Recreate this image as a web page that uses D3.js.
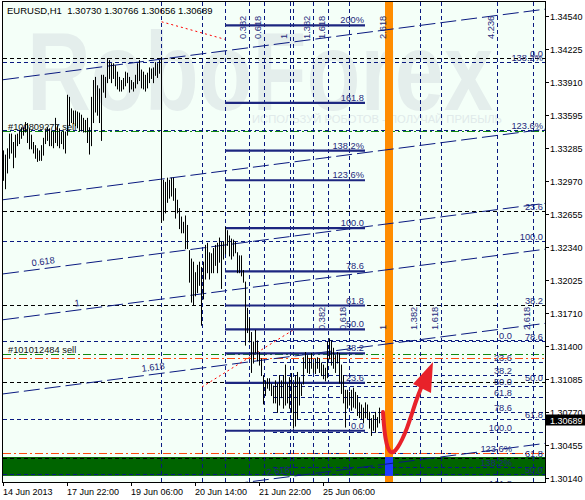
<!DOCTYPE html>
<html>
<head>
<meta charset="utf-8">
<script src="https://cdn.jsdelivr.net/npm/d3@7"></script>
<style>
  body { margin: 0; background: #fff; }
  svg { display: block; }
  text { font-family: Tahoma, "Liberation Sans", Arial, sans-serif; }
</style>
</head>
<body>
<svg id="chart" width="585" height="500"></svg>
<script>
// EURUSD H1 bars: highs and lows per bar (one bar = one hour)
const highs = [
  1.3326,1.3322,1.3328,1.3342,1.3342,1.3334,1.3341,1.3342,1.3345,1.3348,
  1.3348,1.3353,1.3352,1.3347,1.3341,1.3334,1.3331,1.3328,1.3326,1.3331,
  1.3338,1.3345,1.3348,1.3347,1.3345,1.3344,1.3357,1.3350,1.3347,1.3344,
  1.3345,1.3344,1.3379,1.3377,1.3366,1.3364,1.3364,1.3363,1.3362,1.3360,
  1.3357,1.3355,1.3357,1.3348,1.3377,1.3393,1.3396,1.3388,1.3385,1.3398,
  1.3398,1.3396,1.3414,1.3412,1.3409,1.3409,1.3407,1.3401,1.3396,1.3393,
  1.3395,1.3401,1.3400,1.3396,1.3393,1.3391,1.3398,1.3409,1.3412,1.3403,
  1.3401,1.3398,1.3400,1.3405,1.3404,1.3405,1.3410,1.3409,1.3412,1.3415,
  1.3298,1.3296,1.3300,1.3298,1.3300,1.3300,1.3290,1.3279,1.3271,1.3263,
  1.3258,1.3264,1.3255,1.3231,1.3223,1.3220,1.3210,1.3217,1.3220,1.3215,
  1.3220,1.3236,1.3238,1.3229,1.3228,1.3233,1.3236,1.3238,1.3243,1.3239,
  1.3239,1.3253,1.3250,1.3245,1.3242,1.3241,1.3239,1.3229,1.3226,1.3226,
  1.3212,1.3201,1.3176,1.3166,1.3153,1.3144,1.3155,1.3145,1.3134,1.3128,
  1.3112,1.3107,1.3109,1.3109,1.3104,1.3102,1.3107,1.3104,1.3112,1.3107,
  1.3112,1.3122,1.3104,1.3110,1.3114,1.3104,1.3112,1.3115,1.3110,1.3104,
  1.3129,1.3134,1.3131,1.3128,1.3133,1.3124,1.3128,1.3129,1.3128,1.3124,
  1.3122,1.3119,1.3144,1.3147,1.3145,1.3138,1.3131,1.3134,1.3133,1.3122,
  1.3112,1.3098,1.3098,1.3096,1.3098,1.3100,1.3096,1.3093,1.3086,1.3084,
  1.3081,1.3086,1.3084,1.3077,1.3071,1.3074,1.3077,1.3072,1.3081
];
const lows = [
  1.3298,1.3290,1.3305,1.3319,1.3324,1.3310,1.3320,1.3331,1.3333,1.3338,
  1.3341,1.3344,1.3334,1.3328,1.3328,1.3324,1.3319,1.3316,1.3317,1.3317,
  1.3322,1.3333,1.3336,1.3331,1.3331,1.3329,1.3334,1.3331,1.3329,1.3333,
  1.3328,1.3324,1.3341,1.3350,1.3353,1.3352,1.3350,1.3348,1.3345,1.3345,
  1.3344,1.3344,1.3334,1.3323,1.3331,1.3353,1.3363,1.3360,1.3353,1.3336,
  1.3382,1.3377,1.3391,1.3395,1.3391,1.3395,1.3388,1.3385,1.3383,1.3383,
  1.3385,1.3388,1.3391,1.3382,1.3385,1.3383,1.3386,1.3390,1.3393,1.3386,
  1.3385,1.3383,1.3386,1.3391,1.3395,1.3391,1.3398,1.3396,1.3400,1.3258,
  1.3260,1.3267,1.3277,1.3281,1.3283,1.3279,1.3262,1.3267,1.3252,1.3248,
  1.3248,1.3233,1.3233,1.3201,1.3182,1.3179,1.3188,1.3191,1.3198,1.3160,
  1.3185,1.3204,1.3210,1.3204,1.3210,1.3210,1.3217,1.3210,1.3220,1.3195,
  1.3223,1.3228,1.3236,1.3226,1.3223,1.3226,1.3229,1.3210,1.3210,1.3207,
  1.3201,1.3141,1.3153,1.3144,1.3115,1.3124,1.3134,1.3126,1.3122,1.3112,
  1.3085,1.3093,1.3100,1.3098,1.3093,1.3086,1.3086,1.3077,1.3084,1.3091,
  1.3081,1.3084,1.3086,1.3081,1.3077,1.3062,1.3064,1.3071,1.3084,1.3093,
  1.3104,1.3119,1.3115,1.3114,1.3119,1.3115,1.3114,1.3119,1.3115,1.3112,
  1.3109,1.3107,1.3110,1.3128,1.3122,1.3119,1.3115,1.3124,1.3105,1.3095,
  1.3086,1.3063,1.3081,1.3084,1.3079,1.3082,1.3081,1.3074,1.3072,1.3071,
  1.3067,1.3072,1.3071,1.3062,1.3055,1.3060,1.3058,1.3063,1.3067
];

// axes
const timeTickBars = [0, 32, 64, 96, 128, 160];
const timeTickLabels = ["14 Jun 2013", "17 Jun 22:00", "19 Jun 06:00", "20 Jun 14:00", "21 Jun 22:00", "25 Jun 06:00"];
const priceTicks = [1.34540, 1.34225, 1.33910, 1.33595, 1.33285, 1.32970, 1.32655, 1.32340,
                    1.32025, 1.31710, 1.31400, 1.31085, 1.30770, 1.30455, 1.30140];
const lastPrice = 1.30689;
const titleText = "EURUSD,H1  1.30730 1.30766 1.30656 1.30689";

// fibonacci retracement (solid) and its levels
const fibLevels = [0, 23.6, 38.2, 50, 61.8, 78.6, 100, 123.6, 138.2, 161.8, 200];
const fibLabels = ["0.0", "23.6", "38.2", "50.0", "61.8", "78.6", "100.0", "123.6%", "138.2%", "161.8", "200%"];
const fibMain = { p0: 1.3059, p100: 1.3252, fromBar: 111, toBar: 181 };

// dashed fibo levels (black set, navy set, lower navy set)
const blackFibLevels = [0, 23.6, 38.2, 50, 61.8];
const blackFibLabels = ["0.0", "23.6", "38.2", "50.0", "61.8"];
const blackFib = { p0: 1.3414, p100: 1.2797, fromBar: 0, labelBar: 270 };

const navyFibLevels = [50, 61.8, 78.6, 100, 123.6, 138.2];
const navyFibLabels = ["50.0", "61.8", "78.6", "100.0", "123.6%", "138.2%"];
const navyFib = { p0: 1.2795, p100: 1.3240, fromBar: 0, labelBar: 270 };

const lowFibLevels = [0, 23.6, 38.2, 50, 61.8, 78.6, 100, 123.6, 138.2, 161.8];
const lowFibLabels = ["0.0", "23.6", "38.2", "50.0", "61.8", "78.6", "100.0", "123.6%", "138.2%", "161.8"];
const lowFib = { p0: 1.3145, p100: 1.3058, fromBar: 135, labelBar: 254.5 };

// fibo time zones
const upperZoneBars = [123, 130.5, 143.5, 155, 162.5, 193, 247];
const upperZoneLabels = ["0.382", "0.618", "1", "1.382", "1.618", "2.618", "4.236"];
const lowerZoneBars = [162.5, 173, 193, 208.5, 219, 265];
const lowerZoneLabels = ["0.382", "0.618", "1", "1.382", "1.618", "2.618"];
const plainVerticalBars = [79, 99.5, 111, 145];

// fibo channel
const channelLevels = [-1, 0, 0.618, 1, 1.618, 2.618];
const channelLabelLevels = [0.618, 1, 1.618, 2.618];
const channelLabelBars = [14.5, 36, 69.5, 132];
const channel = { bar0: 0, price0: 1.3279, bar1: 271, price1: 1.33462, width: 0.01143 };

// orders, stops, zones
const orderPrices = [1.3344, 1.3132];
const orderLabels = ["#100809277 sell", "#101012484 sell"];
const stopPrices = [1.3128, 1.3038];
const targetZone = { top: 1.3034, bottom: 1.3016 };
const forecastBars = [191, 195];

// red dotted trend lines and forecast arrow (bar, price)
const redLines = [
  [[79.3, 1.34485], [111, 1.34318]],
  [[99.5, 1.31007], [145, 1.31549]]
];
const arrowPath = [[190, 1.30768], [191, 1.30501], [193.5, 1.30359], [197, 1.30406],
                   [202, 1.30597], [206.5, 1.30882], [210, 1.31044]];
const arrowHead = [[215, 1.31244], [205, 1.31035], [214, 1.30949]];

// ---------------------------------------------------------------
const svg = d3.select("#chart");
const plot = { left: 3, right: 545, top: 2, bottom: 482 };
const x = d3.scaleLinear().domain([0, 271]).range([3, 545]);
const y = d3.scaleLinear().domain([1.30140, 1.34540]).range([478, 16]);
const navy = "#0a1a80";
const labelNavy = "#1f2a7c";

svg.append("rect").attr("width", 585).attr("height", 500).attr("fill", "#fff");
svg.append("rect")
  .attr("x", plot.left).attr("y", plot.top)
  .attr("width", plot.right - plot.left).attr("height", plot.bottom - plot.top)
  .attr("fill", "#f4fff8");

svg.append("clipPath").attr("id", "clip").append("rect")
  .attr("x", plot.left).attr("y", plot.top)
  .attr("width", plot.right - plot.left).attr("height", plot.bottom - plot.top);
const g = svg.append("g").attr("clip-path", "url(#clip)");

// watermark
g.append("text").attr("x", 27).attr("y", 110)
  .attr("font-size", 112).attr("font-weight", "bold")
  .attr("textLength", 466).attr("lengthAdjust", "spacingAndGlyphs")
  .attr("fill", "#e4eeec").text("RoboForex");
g.append("text").attr("x", 252).attr("y", 123)
  .attr("font-size", 10.5)
  .attr("textLength", 250).attr("lengthAdjust", "spacingAndGlyphs")
  .attr("fill", "#e0eaea").text("ИСПОЛЬЗУЙ РОБОТОВ - ПОЛУЧАЙ ПРИБЫЛЬ");

// target zone
g.append("rect")
  .attr("x", x(0)).attr("width", x(271) - x(0))
  .attr("y", y(targetZone.top)).attr("height", y(targetZone.bottom) - y(targetZone.top))
  .attr("fill", "#006400");

// horizontal dashed fibo sets
function dashedFib(levels, labels, f, color) {
  levels.forEach((lv, i) => {
    const p = f.p0 + (f.p100 - f.p0) * lv / 100;
    const yy = Math.round(y(p)) + 0.5;
    g.append("line")
      .attr("x1", x(f.fromBar)).attr("x2", x(271))
      .attr("y1", yy).attr("y2", yy)
      .attr("stroke", color).attr("stroke-dasharray", "4,3");
    g.append("text").attr("class", "lbl")
      .attr("x", x(f.labelBar)).attr("y", yy - 2)
      .attr("text-anchor", "end").text(labels[i]);
  });
}
dashedFib(blackFibLevels, blackFibLabels, blackFib, "#000");
dashedFib(navyFibLevels, navyFibLabels, navyFib, navy);
dashedFib(lowFibLevels, lowFibLabels, lowFib, navy);

// order lines
orderPrices.forEach((p, i) => {
  const yy = Math.round(y(p)) + 0.5;
  g.append("line").attr("x1", x(0)).attr("x2", x(271)).attr("y1", yy).attr("y2", yy)
    .attr("stroke", "#118a11").attr("stroke-dasharray", "8,3,2,3");
  g.append("text").attr("x", 8).attr("y", yy - 2).attr("font-size", 9.3)
    .attr("fill", "#111").text(orderLabels[i]);
});
stopPrices.forEach(p => {
  const yy = Math.round(y(p)) + 0.5;
  g.append("line").attr("x1", x(0)).attr("x2", x(271)).attr("y1", yy).attr("y2", yy)
    .attr("stroke", "#ff4a10").attr("stroke-dasharray", "8,3,2,3");
});

// vertical dashed lines
const allVerticals = upperZoneBars.concat(lowerZoneBars, plainVerticalBars);
g.selectAll("line.vz").data(allVerticals).join("line").attr("class", "vz")
  .attr("x1", d => Math.round(x(d)) + 0.5).attr("x2", d => Math.round(x(d)) + 0.5)
  .attr("y1", plot.top).attr("y2", plot.bottom)
  .attr("stroke", navy).attr("stroke-dasharray", "4,3");

// forecast band
g.append("rect")
  .attr("x", x(forecastBars[0])).attr("width", x(forecastBars[1]) - x(forecastBars[0]))
  .attr("y", plot.top).attr("height", plot.bottom - plot.top)
  .attr("fill", "#ff8c00");
g.append("rect")
  .attr("x", x(forecastBars[0])).attr("width", x(forecastBars[1]) - x(forecastBars[0]))
  .attr("y", y(targetZone.top)).attr("height", y(targetZone.bottom) - y(targetZone.top))
  .attr("fill", "#1f3cff");

// time zone labels
function zoneLabels(bars, labels, yStart) {
  bars.forEach((b, i) => {
    g.append("text").attr("class", "lbl")
      .attr("transform", `translate(${Math.round(x(b)) - 3},${yStart}) rotate(-90)`)
      .text(labels[i]);
  });
}
zoneLabels(upperZoneBars, upperZoneLabels, 39);
zoneLabels(lowerZoneBars, lowerZoneLabels, 330);

// fibo channel
const chPrice = (bar, lv) =>
  channel.price0 + (channel.price1 - channel.price0) * (bar - channel.bar0) / (channel.bar1 - channel.bar0)
  - lv * channel.width;
channelLevels.forEach(lv => {
  g.append("line")
    .attr("x1", x(channel.bar0)).attr("y1", y(chPrice(channel.bar0, lv)))
    .attr("x2", x(channel.bar1)).attr("y2", y(chPrice(channel.bar1, lv)))
    .attr("stroke", navy).attr("stroke-width", 1).attr("stroke-dasharray", "16,5");
});
const chAngle = Math.atan2(y(chPrice(271, 0)) - y(chPrice(0, 0)), x(271) - x(0)) * 180 / Math.PI;
channelLabelLevels.forEach((lv, i) => {
  const bx = x(channelLabelBars[i]), by = y(chPrice(channelLabelBars[i], lv));
  g.append("text").attr("class", "lbl")
    .attr("transform", `translate(${bx},${by - 4}) rotate(${chAngle})`)
    .text(lv);
});

// red dotted lines
redLines.forEach(seg => {
  g.append("line")
    .attr("x1", x(seg[0][0])).attr("y1", y(seg[0][1]))
    .attr("x2", x(seg[1][0])).attr("y2", y(seg[1][1]))
    .attr("stroke", "#ff0000").attr("stroke-dasharray", "2,3");
});

// main fibo retracement (solid)
fibLevels.forEach((lv, i) => {
  const p = fibMain.p0 + (fibMain.p100 - fibMain.p0) * lv / 100;
  const yy = y(p);
  g.append("line")
    .attr("x1", x(fibMain.fromBar)).attr("x2", x(fibMain.toBar))
    .attr("y1", yy).attr("y2", yy)
    .attr("stroke", "#1c2680").attr("stroke-width", 2.2);
  g.append("text").attr("class", "lbl")
    .attr("x", x(fibMain.toBar) - 1).attr("y", yy - 2)
    .attr("text-anchor", "end").text(fibLabels[i]);
});

// price bars
g.selectAll("line.bar").data(highs).join("line").attr("class", "bar")
  .attr("x1", (d, i) => Math.round(x(i)) + 0.5)
  .attr("x2", (d, i) => Math.round(x(i)) + 0.5)
  .attr("y1", d => y(d))
  .attr("y2", (d, i) => y(lows[i]) + 1)
  .attr("stroke", "#000").attr("stroke-width", 1);

// forecast arrow
const arrowLine = d3.line().x(d => x(d[0])).y(d => y(d[1])).curve(d3.curveBasis);
g.append("path").attr("d", arrowLine(arrowPath))
  .attr("fill", "none").attr("stroke", "#e8222a").attr("stroke-width", 4)
  .attr("stroke-linecap", "round");
g.append("path")
  .attr("d", "M" + arrowHead.map(d => [x(d[0]), y(d[1])].join(",")).join("L") + "Z")
  .attr("fill", "#e8222a");

svg.selectAll("text.lbl").attr("font-size", 9.3).attr("fill", labelNavy);

// title
svg.append("text").attr("x", 7).attr("y", 14).attr("font-size", 9.5)
  .attr("fill", "#000").style("white-space", "pre").text(titleText);

// frame
svg.append("rect")
  .attr("x", plot.left - 0.5).attr("y", plot.top - 0.5)
  .attr("width", plot.right - plot.left + 1).attr("height", plot.bottom - plot.top + 1)
  .attr("fill", "none").attr("stroke", "#000");

// price axis
const pa = svg.append("g");
priceTicks.forEach(p => {
  const yy = Math.round(y(p)) + 0.5;
  pa.append("line").attr("x1", plot.right).attr("x2", plot.right + 4)
    .attr("y1", yy).attr("y2", yy).attr("stroke", "#000");
  pa.append("text").attr("x", plot.right + 5).attr("y", yy + 3.5)
    .attr("font-size", 9).attr("fill", "#000").text(d3.format(".5f")(p));
});
const ly = Math.round(y(lastPrice));
pa.append("rect").attr("x", plot.right + 0.5).attr("y", ly - 5.5)
  .attr("width", 40).attr("height", 11).attr("fill", "#000");
pa.append("text").attr("x", plot.right + 5).attr("y", ly + 3.5)
  .attr("font-size", 9).attr("fill", "#fff").text(d3.format(".5f")(lastPrice));

// time axis
const ta = svg.append("g");
timeTickBars.forEach((b, i) => {
  const xx = Math.round(x(b)) + 0.5;
  ta.append("line").attr("x1", xx).attr("x2", xx)
    .attr("y1", plot.bottom).attr("y2", plot.bottom + 4).attr("stroke", "#000");
  ta.append("text").attr("x", xx - 0.5).attr("y", 495)
    .attr("font-size", 9).attr("fill", "#000").text(timeTickLabels[i]);
});
</script>
</body>
</html>
